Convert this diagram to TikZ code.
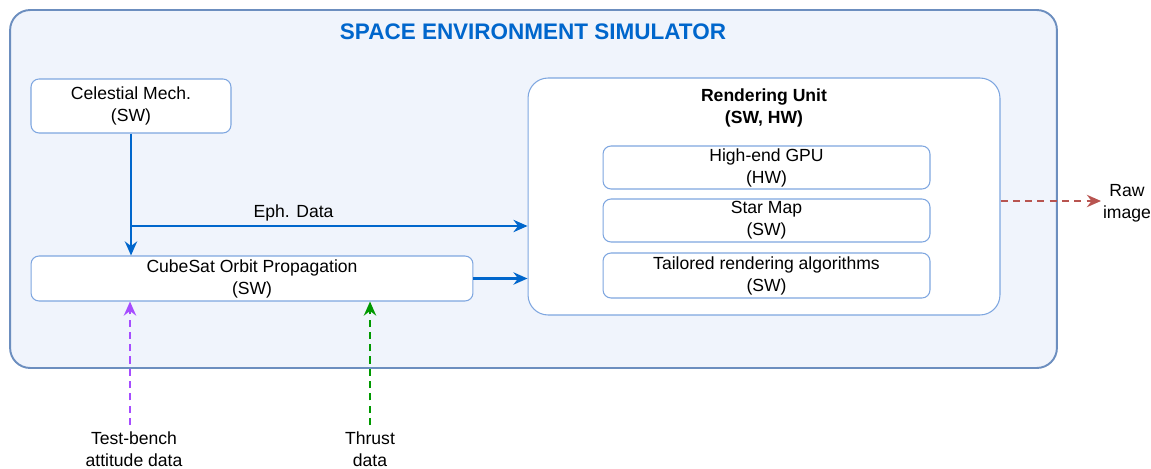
\documentclass[tikz,border=0pt]{standalone}
\usepackage{fontspec}
\setmainfont{Liberation Sans}
\usetikzlibrary{arrows.meta}

\definecolor{simfill}{HTML}{F0F4FC}
\definecolor{simborder}{HTML}{6C8EBF}
\definecolor{boxborder}{HTML}{7EA6E0}
\definecolor{flowblue}{HTML}{0066CC}
\definecolor{rawred}{HTML}{B85450}
\definecolor{attpurple}{HTML}{A64DFF}
\definecolor{thrustgreen}{HTML}{009900}

\begin{document}
\begin{tikzpicture}[x=0.02cm, y=-0.02cm,
		font=\fontsize{10}{12.5}\selectfont,
		unitbox/.style={draw=boxborder, line width=0.6pt, fill=white, rounded corners=0.16cm, align=center, inner sep=0pt},
		flow/.style={draw=flowblue, line width=1.3pt, -{Stealth[length=8pt, width=7pt]}},
		extflow/.style={line width=1.3pt, dash pattern=on 4pt off 3pt, -{Stealth[length=8pt, width=7pt]}},
		tag/.style={align=center, inner sep=1pt}]
				\useasboundingbox (0,0) rectangle (1151,469);
				
				% Simulator frame
				\node (sim) [draw=simborder, line width=1.1pt, fill=simfill, rounded corners=0.4cm, minimum width=20.94cm, minimum height=7.16cm] at (533.5,189) {};
				\node (simtitle) [text=flowblue, font=\fontsize{12.8}{15}\selectfont\bfseries] at (533,32) {SPACE ENVIRONMENT SIMULATOR};
				
				% Software blocks
				\node (celest) [unitbox, minimum width=4cm, minimum height=1.08cm] at (131,106) {Celestial Mech.\\(SW)};
				\node (cubesat) [unitbox, minimum width=8.84cm, minimum height=0.9cm] at (252,278.5) {CubeSat Orbit Propagation\\(SW)};
				
				% Rendering unit
				\node (render) [unitbox, rounded corners=0.4cm, minimum width=9.44cm, minimum height=4.74cm] at (764,196.5) {};
				\node (rendertitle) [font=\fontsize{10}{12.5}\selectfont\bfseries, align=center] at (764,108) {Rendering Unit\\(SW, HW)};
				\node (gpu) [unitbox, minimum width=6.54cm, minimum height=0.86cm] at (766.5,167.5) {High-end GPU\\(HW)};
				\node (starmap) [unitbox, minimum width=6.54cm, minimum height=0.86cm] at (766.5,220.5) {Star Map\\(SW)};
				\node (algos) [unitbox, minimum width=6.54cm, minimum height=0.9cm] at (766.5,275.5) {Tailored rendering algorithms\\(SW)};
				
				% Outside inputs and outputs
				\node (rawimg) [tag] at (1127,203) {Raw\\image};
				\node (attdata) [tag] at (134,449) {Test-bench\\attitude data};
				\node (thrust) [tag] at (370,449) {Thrust\\data};
				\coordinate (ephsplit) at (131,226);
				\coordinate (attstart) at (130,425);
				\coordinate (thruststart) at (370,425);
				
				% Arrows
				\draw[flow] (celest.south) -- (celest.south |- cubesat.north);
				\draw[flow] (ephsplit) -- (ephsplit -| render.west) node[pos=0.41, above=-1pt] {Eph. Data};
				\draw[flow] (cubesat.east) -- (cubesat.east -| render.west);
				\draw[extflow, draw=rawred, color=rawred] (render.east |- 0,201) -- (rawimg.west |- 0,201);
				\draw[extflow, draw=attpurple, color=attpurple] (attstart) -- (attstart |- cubesat.south);
				\draw[extflow, draw=thrustgreen, color=thrustgreen] (thruststart) -- (thruststart |- cubesat.south);
				
			\end{tikzpicture}
\end{document}
